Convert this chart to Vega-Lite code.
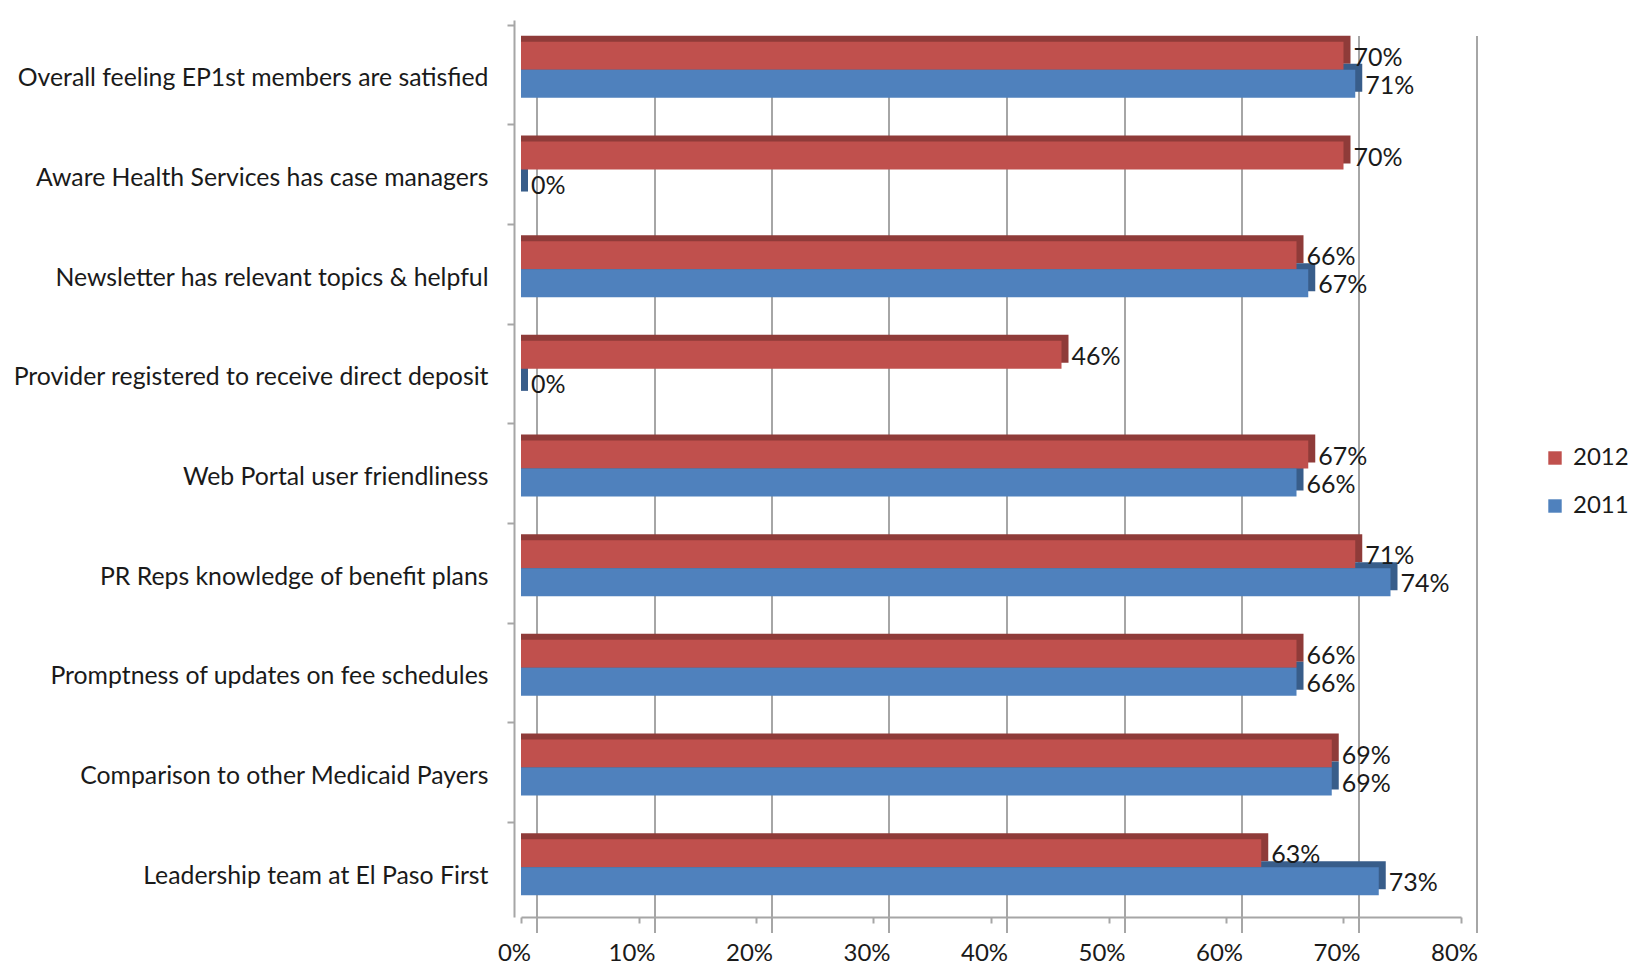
{
  "$schema": "https://vega.github.io/schema/vega-lite/v6.json",
  "width": 940,
  "height": 897,
  "autosize": "none",
  "padding": {"left": 521, "top": 20, "right": 172, "bottom": 48},
  "background": "white",
  "config": {"view": {"stroke": null}, "font": "Lato"},
  "data": {"values": [
    {"q": "Overall feeling EP1st members are satisfied", "year": "2012", "v": 0.70},
    {"q": "Overall feeling EP1st members are satisfied", "year": "2011", "v": 0.71},
    {"q": "Aware Health Services has case managers", "year": "2012", "v": 0.70},
    {"q": "Aware Health Services has case managers", "year": "2011", "v": 0.0},
    {"q": "Newsletter has relevant topics & helpful", "year": "2012", "v": 0.66},
    {"q": "Newsletter has relevant topics & helpful", "year": "2011", "v": 0.67},
    {"q": "Provider registered to receive direct deposit", "year": "2012", "v": 0.46},
    {"q": "Provider registered to receive direct deposit", "year": "2011", "v": 0.0},
    {"q": "Web Portal user friendliness", "year": "2012", "v": 0.67},
    {"q": "Web Portal user friendliness", "year": "2011", "v": 0.66},
    {"q": "PR Reps knowledge of benefit plans", "year": "2012", "v": 0.71},
    {"q": "PR Reps knowledge of benefit plans", "year": "2011", "v": 0.74},
    {"q": "Promptness of updates on fee schedules", "year": "2012", "v": 0.66},
    {"q": "Promptness of updates on fee schedules", "year": "2011", "v": 0.66},
    {"q": "Comparison to other Medicaid Payers", "year": "2012", "v": 0.69},
    {"q": "Comparison to other Medicaid Payers", "year": "2011", "v": 0.69},
    {"q": "Leadership team at El Paso First", "year": "2012", "v": 0.63},
    {"q": "Leadership team at El Paso First", "year": "2011", "v": 0.73}
  ]},
  "encoding": {
    "y": {
      "field": "q", "type": "nominal",
      "sort": ["Overall feeling EP1st members are satisfied", "Aware Health Services has case managers", "Newsletter has relevant topics & helpful", "Provider registered to receive direct deposit", "Web Portal user friendliness", "PR Reps knowledge of benefit plans", "Promptness of updates on fee schedules", "Comparison to other Medicaid Payers", "Leadership team at El Paso First"],
      "scale": {"paddingInner": 0.437, "paddingOuter": 0.2185},
      "axis": {
        "title": null, "domainColor": "#a6a6a6", "domainWidth": 2,
        "tickColor": "#a6a6a6", "tickWidth": 2, "tickSize": 7,
        "bandPosition": 0, "tickOffset": -17, "labelOffset": 26,
        "labelFontSize": 24.8, "labelPadding": 19, "labelColor": "#1a1a1a",
        "labelLimit": 700, "offset": 7
      }
    }
  },
  "layer": [
    {
      "transform": [{"filter": "datum.year === '2012'"}],
      "mark": {"type": "bar", "color": "#8f3b39", "height": {"band": 0.5}, "xOffset": 7, "x2Offset": 7, "yOffset": -20},
      "encoding": {
        "x": {
          "field": "v", "type": "quantitative", "stack": null,
          "scale": {"domain": [0, 0.8], "nice": false},
          "axis": {
            "title": null, "orient": "bottom", "grid": true, "gridColor": "#a6a6a6", "gridWidth": 2,
            "labels": false, "ticks": false, "domain": false,
            "values": [0, 0.1, 0.2, 0.3, 0.4, 0.5, 0.6, 0.7, 0.8],
            "translate": 16, "offset": -60, "zindex": 0
          }
        }
      }
    },
    {
      "transform": [{"filter": "datum.year === '2011'"}],
      "mark": {"type": "bar", "color": "#385d8a", "height": {"band": 0.5}, "xOffset": 7, "x2Offset": 7, "yOffset": 8},
      "encoding": {
        "x": {"field": "v", "type": "quantitative", "stack": null, "axis": null}
      }
    },
    {
      "transform": [{"filter": "datum.year === '2012'"}],
      "mark": {"type": "bar", "height": {"band": 0.5}, "yOffset": -14},
      "encoding": {
        "x": {
          "field": "v", "type": "quantitative", "stack": null,
          "axis": {
            "title": null, "orient": "bottom", "grid": false, "format": ".0%",
            "values": [0, 0.1, 0.2, 0.3, 0.4, 0.5, 0.6, 0.7, 0.8],
            "domainColor": "#a6a6a6", "domainWidth": 2,
            "tickColor": "#a6a6a6", "tickWidth": 2, "tickSize": 6,
            "labelFontSize": 24, "labelColor": "#1a1a1a", "labelPadding": 18,
            "labelOffset": -7, "labelFlush": false
          }
        },
        "color": {
          "field": "year", "type": "nominal",
          "scale": {"domain": ["2012", "2011"], "range": ["#c0504d", "#4f81bd"]},
          "legend": {
            "title": null, "orient": "none", "legendX": 1022, "legendY": 426,
            "symbolType": "square", "symbolSize": 180, "symbolStrokeWidth": 0,
            "labelFontSize": 24, "labelColor": "#1a1a1a", "rowPadding": 24,
            "labelOffset": 6
          }
        }
      }
    },
    {
      "transform": [{"filter": "datum.year === '2011'"}],
      "mark": {"type": "bar", "height": {"band": 0.5}, "yOffset": 14},
      "encoding": {
        "x": {"field": "v", "type": "quantitative", "stack": null, "axis": null},
        "color": {"field": "year", "type": "nominal"}
      }
    },
    {
      "transform": [{"filter": "datum.year === '2012'"}],
      "mark": {"type": "text", "align": "left", "baseline": "middle", "dx": 10, "yOffset": -12, "fontSize": 25, "color": "#1a1a1a"},
      "encoding": {
        "x": {"field": "v", "type": "quantitative", "stack": null, "axis": null},
        "text": {"field": "v", "type": "quantitative", "format": ".0%"}
      }
    },
    {
      "transform": [{"filter": "datum.year === '2011'"}],
      "mark": {"type": "text", "align": "left", "baseline": "middle", "dx": 10, "yOffset": 16, "fontSize": 25, "color": "#1a1a1a"},
      "encoding": {
        "x": {"field": "v", "type": "quantitative", "stack": null, "axis": null},
        "text": {"field": "v", "type": "quantitative", "format": ".0%"}
      }
    }
  ],
  "resolve": {"axis": {"x": "independent"}}
}
